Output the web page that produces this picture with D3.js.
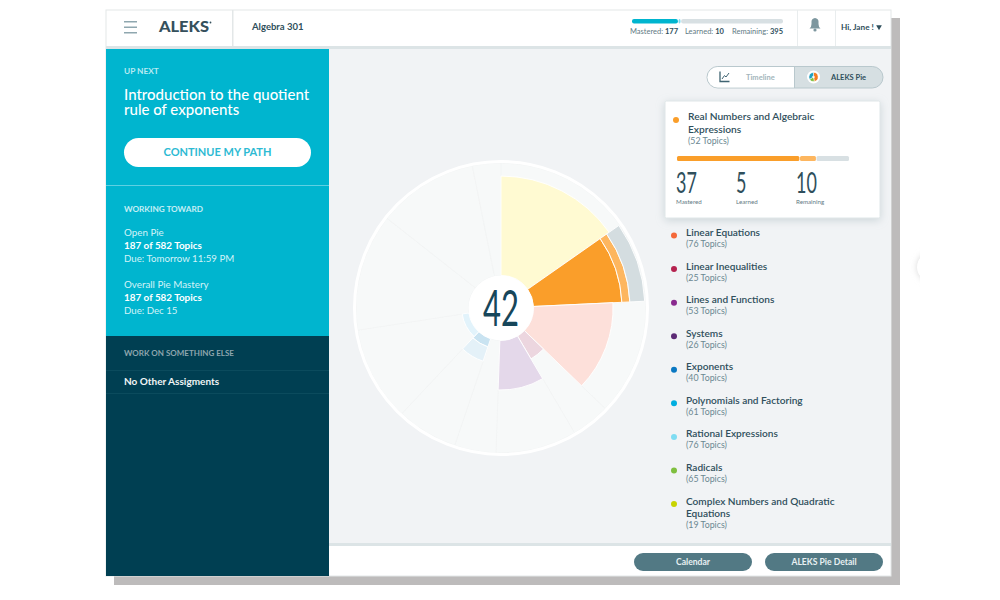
<!DOCTYPE html>
<html>
<head>
<meta charset="utf-8">
<title>ALEKS Pie</title>
<script src="https://cdn.jsdelivr.net/npm/d3@7"></script>
<style>
  html, body { margin: 0; padding: 0; background: #fff; }
  svg { display: block; }
  text { font-family: Lato, "Open Sans", sans-serif; }
</style>
</head>
<body>
<div id="chart"></div>
<script>
// overall progress
const progressLabels = ['Mastered', 'Learned', 'Remaining'];
const progressValues = [177, 10, 395];

// selected category card
const cardValues = [37, 5, 10];

// legend
const legendNames = [
  ['Linear Equations'],
  ['Linear Inequalities'],
  ['Lines and Functions'],
  ['Systems'],
  ['Exponents'],
  ['Polynomials and Factoring'],
  ['Rational Expressions'],
  ['Radicals'],
  ['Complex Numbers and Quadratic', 'Equations']
];
const legendTopics = [76, 25, 53, 26, 40, 61, 76, 65, 19];
const legendColors = ['#f4683a', '#b5224f', '#8a2a8f', '#5c2a75', '#0a78c2', '#00aee0', '#7fdcf2', '#7fbf3f', '#c8d400'];

// pie: slice widths in degrees, clockwise from 12 o'clock
const sliceSpans = [55, 32.3, 46.7, 15.5, 32.5, 16.6, 24.6, 38, 47, 40.4, 11.4];
// pie: band heights in percent of the radius
const masteredLevels = [88.4, 78.7, 70.7, 23.6, 44, 0, 7.6, 6, 0, 0, 0];
const learnedLevels = [0, 7.1, 0, 0, 0, 0, 13.4, 0, 0, 0, 0];
const remainingLevels = [0, 13.2, 0, 0, 0, 0, 0, 0, 0, 0, 0];
const masteredColors = ['#fffad2', '#fa9e2a', '#fde0da', '#ecd6df', '#e4d8ea', '#e4d8ea', '#c9e3f1', '#e2f3fb', '#f7f9f9', '#f7f9f9', '#f7f9f9'];
const learnedColors = ['#fffad2', '#fdb65f', '#fde0da', '#ecd6df', '#e4d8ea', '#e4d8ea', '#e4f1f8', '#e2f3fb', '#f7f9f9', '#f7f9f9', '#f7f9f9'];
const remainingColor = '#d4dde0';

const centerLabel = '42';

const svg = d3.select('#chart').append('svg').attr('width', 1000).attr('height', 600);
const defs = svg.append('defs');

const ink = '#2f4f5c';

function label(parent, x, y, str, size, fill, weight, anchor) {
  return parent.append('text')
    .attr('x', x).attr('y', y)
    .attr('font-size', size)
    .attr('fill', fill)
    .attr('font-weight', weight || 400)
    .attr('text-anchor', anchor || 'start')
    .text(str);
}

function box(parent, x, y, w, h, fill, r) {
  return parent.append('rect').attr('x', x).attr('y', y).attr('width', w).attr('height', h)
    .attr('fill', fill).attr('rx', r || 0);
}

// page frame
box(svg, 114, 18, 786, 567, '#bdbbbb');
box(svg, 106, 10, 785, 566, '#fff').attr('stroke', '#e3e7e8');
box(svg, 329, 49, 562, 494, '#f1f3f5');
box(svg, 106, 46, 785, 3, '#dce4e6');
box(svg, 329, 543, 562, 3, '#dce4e6');

// stray carousel handle, cut off at the right of the frame
const handleBlur = defs.append('filter').attr('id', 'handleBlur').attr('x', '-50%').attr('y', '-50%').attr('width', '200%').attr('height', '200%');
handleBlur.append('feGaussianBlur').attr('stdDeviation', 3);
svg.append('circle').attr('cx', 932).attr('cy', 267).attr('r', 15).attr('fill', '#d9d9d9').attr('filter', 'url(#handleBlur)');
svg.append('circle').attr('cx', 932).attr('cy', 267).attr('r', 15).attr('fill', '#fff');
box(svg, 920, 240, 80, 60, '#fff');

// header
const head = svg.append('g');
box(head, 124, 21, 13, 1.5, '#8fa7af');
box(head, 124, 26.5, 13, 1.5, '#8fa7af');
box(head, 124, 32, 13, 1.5, '#8fa7af');
label(head, 159, 32, 'ALEKS', 14.5, '#35505c', 900).attr('textLength', 50).attr('lengthAdjust', 'spacingAndGlyphs');
head.append('circle').attr('cx', 210.5).attr('cy', 22.5).attr('r', 0.9).attr('fill', '#35505c');
box(head, 232, 10, 1.5, 36, '#e3e7e8');
label(head, 252, 30, 'Algebra 301', 9.5, ink, 700);
box(head, 797, 10, 1, 36, '#e9edee');
box(head, 835, 10, 1, 36, '#e9edee');
label(head, 841, 30, 'Hi, Jane !', 8.2, ink, 700);
head.append('path').attr('d', d3.symbol(d3.symbolTriangle, 14)()).attr('transform', 'translate(879,27) rotate(180)').attr('fill', ink);
// bell
head.append('path')
  .attr('d', 'M809.5 28.5 q2 -1.5 2 -4.5 v-2.5 q0 -3 3.5 -3.5 q3.5 .5 3.5 3.5 v2.5 q0 3 2 4.5 z')
  .attr('fill', '#7d979f');
head.append('circle').attr('cx', 815).attr('cy', 30).attr('r', 1.6).attr('fill', '#7d979f');

// overall progress bar
const progressX = d3.scaleLinear().domain([0, d3.sum(progressValues)]).range([632, 783]);
const progressColors = ['#00b5cf', '#7fdcf2', '#d8e0e3'];
let running = 0;
progressValues.forEach((v, i) => {
  box(head, progressX(running) + (i ? 0.6 : 0), 19, progressX(running + v) - progressX(running) - (i ? 0.6 : 0), 4.5, progressColors[i], 2);
  running += v;
});
const progressLabelX = [630, 685, 732];
progressLabels.forEach((name, i) => {
  const t = label(head, progressLabelX[i], 34, name + ': ', 7.5, '#5f7a84');
  t.append('tspan').attr('font-weight', 700).attr('fill', ink).text(progressValues[i]);
});

// sidebar
const side = svg.append('g');
box(side, 106, 49, 223, 287, '#00b5cf');
box(side, 106, 336, 223, 240, '#003f52');
box(side, 106, 185, 223, 1, '#5ed0e2');
box(side, 106, 370, 223, 1, '#0b4b5d');
box(side, 106, 393, 223, 1, '#0b4b5d');
label(side, 124, 74, 'UP NEXT', 8.3, '#b8eaf2', 700);
const upNext = label(side, 124, 100, '', 15, '#fff', 500);
upNext.append('tspan').attr('x', 124).attr('y', 100).text('Introduction to the quotient');
upNext.append('tspan').attr('x', 124).attr('y', 115).text('rule of exponents');
box(side, 124, 138, 187, 29, '#fff', 14.5);
label(side, 217.5, 156, 'CONTINUE MY PATH', 11, '#2dbad3', 700, 'middle');
label(side, 124, 212, 'WORKING TOWARD', 8.2, '#c4eef5', 700);
label(side, 124, 236, 'Open Pie', 9.8, '#d4f3f8');
label(side, 124, 249, '187 of 582 Topics', 9.9, '#fff', 700);
label(side, 124, 262, 'Due: Tomorrow 11:59 PM', 9.7, '#d4f3f8');
label(side, 124, 288, 'Overall Pie Mastery', 9.8, '#d4f3f8');
label(side, 124, 301, '187 of 582 Topics', 9.9, '#fff', 700);
label(side, 124, 314, 'Due: Dec 15', 9.7, '#d4f3f8');
label(side, 124, 356, 'WORK ON SOMETHING ELSE', 8, '#8ea6ae', 700);
label(side, 124, 385, 'No Other Assigments', 10, '#f1f5f6', 700);

// pie
const cx = 501, cy = 308;
const hole = 32.5, rim = 145;
const radius = d3.scaleLinear().domain([0, 100]).range([hole, rim]);
const pieLayout = d3.pie().sort(null).value(d => d).startAngle(0).endAngle(2 * Math.PI);
const slices = pieLayout(sliceSpans);
const arc = d3.arc();
const pieG = svg.append('g').attr('transform', `translate(${cx},${cy})`);

pieG.selectAll('path.back').data(slices).enter().append('path')
  .attr('class', 'back')
  .attr('d', d => arc({innerRadius: hole, outerRadius: rim, startAngle: d.startAngle, endAngle: d.endAngle}))
  .attr('fill', '#f7f9f9')
  .attr('stroke', '#f2f4f4')
  .attr('stroke-width', 0.6);

slices.forEach((d, i) => {
  const bands = [
    [0, masteredLevels[i], masteredColors[i]],
    [masteredLevels[i], masteredLevels[i] + learnedLevels[i], learnedColors[i]],
    [masteredLevels[i] + learnedLevels[i], masteredLevels[i] + learnedLevels[i] + remainingLevels[i], remainingColor]
  ];
  bands.filter(b => b[1] > b[0]).forEach(b => {
    pieG.append('path')
      .attr('d', arc({innerRadius: radius(b[0]), outerRadius: radius(b[1]), startAngle: d.startAngle, endAngle: d.endAngle}))
      .attr('fill', b[2])
      .attr('stroke', '#fff')
      .attr('stroke-width', 0.9);
  });
});

pieG.append('circle').attr('r', rim + 1.5).attr('fill', 'none').attr('stroke', '#fff').attr('stroke-width', 3);
pieG.append('circle').attr('r', hole).attr('fill', '#fff');
label(pieG, 0, 0, centerLabel, 50, '#17465a', 400, 'middle')
  .attr('transform', 'translate(0,18) scale(0.62,1)');

// toggle
const toggle = svg.append('g');
toggle.append('rect').attr('x', 707).attr('y', 66.5).attr('width', 176).attr('height', 21.5).attr('rx', 10.75)
  .attr('fill', '#d6dfe2').attr('stroke', '#b9c8cd');
toggle.append('path').attr('d', 'M794 67 H717.75 a10.25 10.25 0 0 0 0 20.5 H794 z').attr('fill', '#fff');
box(toggle, 794, 67, 1, 21, '#b9c8cd');
label(toggle, 746, 80, 'Timeline', 7.5, '#a3b5bb', 700);
label(toggle, 831, 80, 'ALEKS Pie', 7.5, ink, 700);
toggle.append('path').attr('d', 'M720 71.5 V81.5 H729.5').attr('fill', 'none').attr('stroke', '#3f6472').attr('stroke-width', 1.3);
toggle.append('path').attr('d', 'M722 79 L724.5 75.5 L726 77 L729 73').attr('fill', 'none').attr('stroke', '#3f6472').attr('stroke-width', 1);
// mini pie on the toggle
const miniColors = ['#f47c20', '#7fbf3f', '#1f9fc0'];
const miniSpans = [170, 70, 120];
const miniArc = d3.arc().innerRadius(1).outerRadius(4.6);
toggle.append('circle').attr('cx', 813.5).attr('cy', 77).attr('r', 6.5).attr('fill', '#fff');
toggle.selectAll('path.mini').data(d3.pie().sort(null)(miniSpans)).enter().append('path')
  .attr('class', 'mini').attr('transform', 'translate(813.5,77)')
  .attr('d', miniArc).attr('fill', (d, i) => miniColors[i]).attr('stroke', '#fff').attr('stroke-width', 0.5);

// legend
const legend = svg.append('g');
const legendY = d3.scaleLinear().domain([0, legendNames.length - 1]).range([236, 504.5]);
legendNames.forEach((lines, i) => {
  const y = legendY(i);
  legend.append('circle').attr('cx', 674).attr('cy', y - 0.5).attr('r', 3).attr('fill', legendColors[i]);
  lines.forEach((line, j) => label(legend, 686, y + j * 12.6, line, 10.1, ink, 600));
  label(legend, 686, y + (lines.length - 1) * 12.6 + 11, `(${legendTopics[i]} Topics)`, 8.8, '#6b8791');
});

// selected category card
const card = svg.append('g');
const shadow = defs.append('filter').attr('id', 'cardShadow').attr('x', '-10%').attr('y', '-10%').attr('width', '120%').attr('height', '125%');
shadow.append('feDropShadow').attr('dx', 0).attr('dy', 2).attr('stdDeviation', 4).attr('flood-color', '#9fb2b8').attr('flood-opacity', 0.45);
box(card, 665, 101, 215, 117, '#fff', 1.5).attr('stroke', '#dfe6e8').attr('filter', 'url(#cardShadow)');
card.append('circle').attr('cx', 676).attr('cy', 120).attr('r', 3).attr('fill', '#fa9e2a');
label(card, 688, 120, 'Real Numbers and Algebraic', 10.2, ink, 600);
label(card, 688, 133, 'Expressions', 10.2, ink, 600);
label(card, 688, 144, '(52 Topics)', 8.8, '#6b8791');
const cardX = d3.scaleLinear().domain([0, d3.sum(cardValues)]).range([677, 849]);
const cardColors = ['#fa9e2a', '#fdb65f', '#d8e0e3'];
const cardNames = ['Mastered', 'Learned', 'Remaining'];
const cardLabelX = [676, 736, 796];
let cardRun = 0;
cardValues.forEach((v, i) => {
  box(card, cardX(cardRun) + (i ? 0.6 : 0), 156, cardX(cardRun + v) - cardX(cardRun) - (i ? 0.6 : 0), 5, cardColors[i], 1.5);
  cardRun += v;
  label(card, 0, 0, v, 29, '#2f4f5c', 400).attr('transform', `translate(${cardLabelX[i]},193) scale(0.62,1)`);
  label(card, cardLabelX[i], 204, cardNames[i], 6.2, '#5f7a84');
});

// bottom buttons
const foot = svg.append('g');
box(foot, 634, 553, 118, 18, '#527984', 9);
box(foot, 765, 553, 118, 18, '#527984', 9);
label(foot, 693, 565, 'Calendar', 8.6, '#e8f0f2', 700, 'middle');
label(foot, 824, 565, 'ALEKS Pie Detail', 8.6, '#e8f0f2', 700, 'middle');
</script>
</body>
</html>
